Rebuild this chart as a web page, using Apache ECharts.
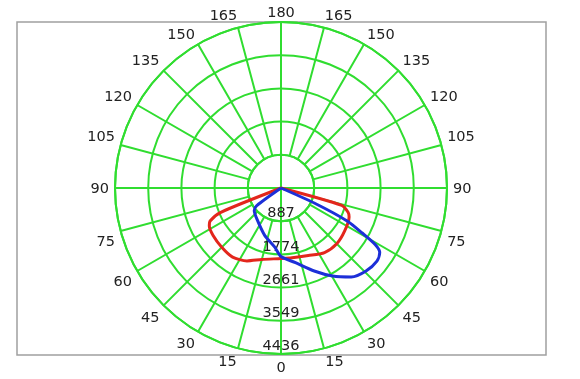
<!DOCTYPE html>
<html>
<head>
<meta charset="utf-8">
<script src="https://cdn.jsdelivr.net/npm/echarts@6/dist/echarts.min.js"></script>
<style>
html,body{margin:0;padding:0;background:#fff;}
#chart{width:580px;height:379px;}
</style>
</head>
<body>
<div id="chart"></div>
<script>
// Ring (intensity) tick labels, cd
const ringLabels = ['887', '1774', '2661', '3549', '4436'];
const ringMax = 4436;
const ringStep = 887.2;
// Angle ticks (degrees, gamma)
const angleStep = 15;

// Red curve: angle on axis (left side = gamma, right side = 360 - gamma), intensity
const redAngles = [68, 68, 65, 62, 55, 45, 35, 25, 15, 0, 351, 338, 326, 315, 304, 293, 290, 286, 286];
const redValues = [0, 1750, 2090, 2170, 2215, 2240, 2255, 2150, 1978, 1884, 1887, 1946, 2080, 2107, 2053, 1977, 1911, 1689, 0];

// Blue curve
const blueAngles = [56, 54, 50, 38, 19, 6, 0, 349, 338.2, 329.6, 321.7, 314.3, 307.3, 303.2, 301, 299, 296.5, 294.3, 292];
const blueValues = [0, 800, 933, 1048, 1339, 1590, 1830, 2034, 2389, 2728, 3030, 3175, 3223, 3153, 2935, 2480, 1986, 974, 0];

const green = '#30dd30';
const font = 'DejaVu Sans';
const fs = 14.5;
const cx = 281, cy = 188, R = 166;
const labelMargin = 6;

// Style-only nudges for angle labels (px): [dx on left side (mirrored on right), dy]
const labelNudge = {0: [0, 2], 15: [-9, 1], 30: [0, 1], 45: [0, 3], 60: [0, 2], 75: [0, 10], 90: [0, 1],
  105: [0, -6], 120: [0, 2.5], 135: [0, 2.5], 150: [0, 3], 165: [-13, 2], 180: [0, 4]};

function toData(angles, values) {
  return angles.map((a, i) => [values[i], a]);
}

// Build rich styles for each angle label so the nudges apply given the alignment ECharts picks
const rich = {};
for (let v = 0; v < 360; v += angleStep) {
  const g = v <= 180 ? v : 360 - v;
  const nd = labelNudge[g] || [0, 0];
  const sx = v <= 180 ? nd[0] : -nd[0];
  const sy = nd[1];
  const th = (-90 - v) * Math.PI / 180;
  const dxn = Math.cos(th), dyn = -Math.sin(th);
  const align = Math.abs(dxn) < 0.3 ? 'center' : (dxn > 0 ? 'left' : 'right');
  const valign = Math.abs(dyn) < 0.3 ? 'middle' : (dyn > 0 ? 'top' : 'bottom');
  let pt = 0, pr = 0, pb = 0, pl = 0, L = fs;
  if (align === 'center') { pl = Math.max(0, 2 * sx); pr = Math.max(0, -2 * sx); }
  else if (align === 'left') { pl = Math.max(0, sx); }
  else { pr = Math.max(0, -sx); }
  if (valign === 'middle') { pt = Math.max(0, 2 * sy); pb = Math.max(0, -2 * sy); }
  else if (valign === 'top') { if (sy >= 0) pt = sy; else L = fs + 2 * sy; }
  else { if (sy >= 0) L = fs - 2 * sy; else pb = -sy; }
  rich['l' + v] = {padding: [pt, pr, pb, pl], lineHeight: L, fontSize: fs, fontFamily: font, color: '#222'};
}

const chart = echarts.init(document.getElementById('chart'), null, {renderer: 'canvas'});
chart.setOption({
  animation: false,
  backgroundColor: '#fff',
  graphic: [{
    type: 'rect', z: -10,
    shape: {x: 17, y: 22, width: 529, height: 333},
    style: {fill: 'none', stroke: '#a0a0a0', lineWidth: 1.5}
  }],
  polar: [
    {center: [cx, cy], radius: R},
    {center: [cx, cy], radius: [R * ringStep / ringMax, R]}
  ],
  angleAxis: [
    {
      polarIndex: 0, type: 'value', min: 0, max: 360, interval: 90, startAngle: -90, clockwise: true,
      axisLine: {show: false}, axisTick: {show: false}, axisLabel: {show: false},
      splitLine: {show: true, lineStyle: {color: green, width: 2}}
    },
    {
      polarIndex: 1, type: 'value', min: 0, max: 360, interval: angleStep, startAngle: -90, clockwise: true,
      axisLine: {show: true, lineStyle: {color: green, width: 2}},
      axisTick: {show: false},
      splitLine: {show: true, lineStyle: {color: green, width: 2}},
      axisLabel: {
        show: true, margin: labelMargin, color: '#222', fontFamily: font, fontSize: fs,
        rich: rich,
        formatter: function (v) {
          v = Math.round(v) % 360;
          const g = v <= 180 ? v : 360 - v;
          return '{l' + v + '|' + g + '}';
        }
      }
    }
  ],
  radiusAxis: [
    {
      polarIndex: 0, type: 'value', min: 0, max: ringMax, interval: ringStep,
      axisLine: {show: false}, axisTick: {show: false},
      splitLine: {show: true, lineStyle: {color: green, width: 2}},
      axisLabel: {
        show: true, margin: 0, color: '#222', fontFamily: font, fontSize: fs,
        align: 'center', verticalAlign: 'bottom',
        showMinLabel: false,
        formatter: function (v) { const i = Math.round(v / ringStep); return i >= 1 ? ringLabels[i - 1] : ''; }
      }
    },
    {
      polarIndex: 1, type: 'value', min: 0, max: ringMax, show: false,
      axisLine: {show: false}, axisTick: {show: false}, axisLabel: {show: false}, splitLine: {show: false}
    }
  ],
  series: [
    {
      type: 'line', coordinateSystem: 'polar', polarIndex: 0, data: toData(redAngles, redValues),
      showSymbol: false, smooth: 0.25, lineStyle: {color: '#e3261c', width: 3}, z: 5
    },
    {
      type: 'line', coordinateSystem: 'polar', polarIndex: 0, data: toData(blueAngles, blueValues),
      showSymbol: false, smooth: 0.25, lineStyle: {color: '#1c2fd8', width: 3}, z: 6
    }
  ]
});
</script>
</body>
</html>
